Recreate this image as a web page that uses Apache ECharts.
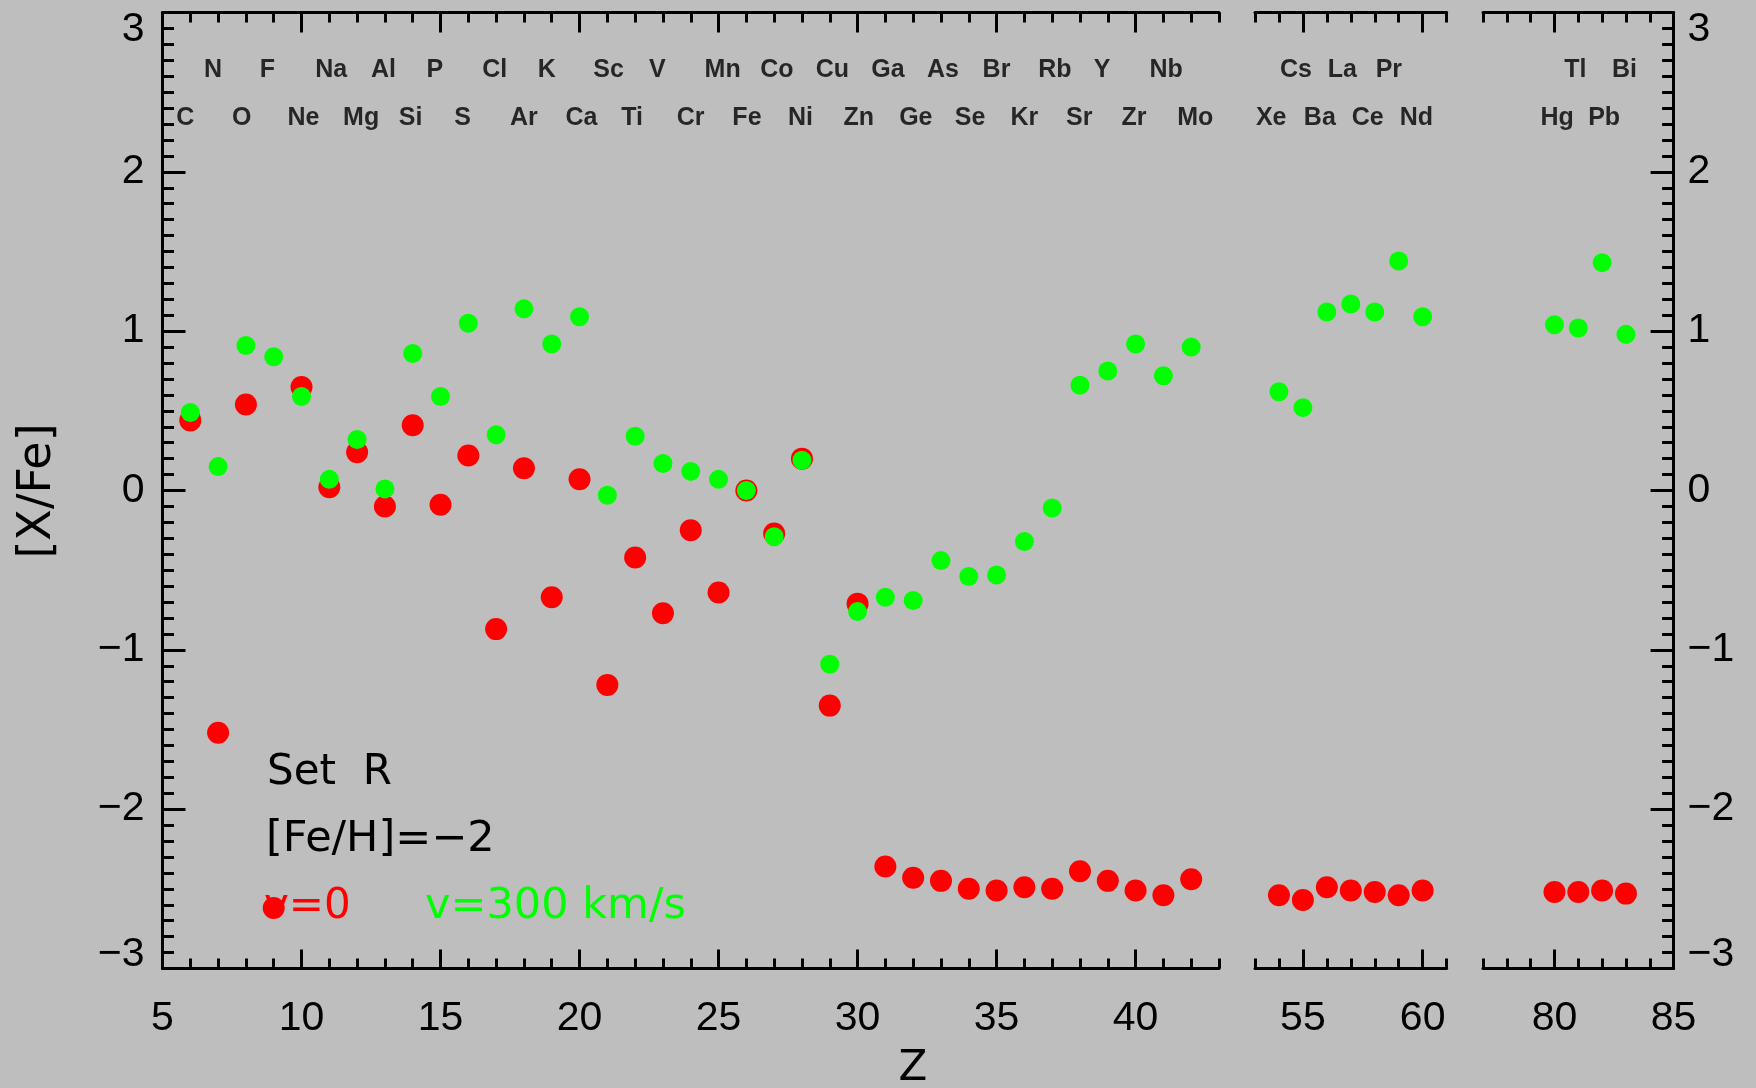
<!DOCTYPE html>
<html>
<head>
<meta charset="utf-8">
<script src="https://cdn.jsdelivr.net/npm/echarts@6/dist/echarts.min.js"></script>
<style>
  html, body { margin: 0; padding: 0; background: #bebebe; }
  #chart { width: 1756px; height: 1088px; }
</style>
</head>
<body>
<div id="chart"></div>
<script>
// Atomic number segments (light elements, Xe..Nd, Hg..Bi)
const zLight = [6, 7, 8, 9, 10, 11, 12, 13, 14, 15, 16, 17, 18, 19, 20, 21, 22, 23, 24, 25, 26, 27, 28, 29, 30, 31, 32, 33, 34, 35, 36, 37, 38, 39, 40, 41, 42];
const symLight = ['C', 'N', 'O', 'F', 'Ne', 'Na', 'Mg', 'Al', 'Si', 'P', 'S', 'Cl', 'Ar', 'K', 'Ca', 'Sc', 'Ti', 'V', 'Cr', 'Mn', 'Fe', 'Co', 'Ni', 'Cu', 'Zn', 'Ga', 'Ge', 'As', 'Se', 'Br', 'Kr', 'Rb', 'Sr', 'Y', 'Zr', 'Nb', 'Mo'];
// [X/Fe] for v = 0
const redLight = [0.44, -1.52, 0.54, -2.62, 0.65, 0.02, 0.24, -0.10, 0.41, -0.09, 0.22, -0.87, 0.14, -0.67, 0.07, -1.22, -0.42, -0.77, -0.25, -0.64, 0.00, -0.27, 0.20, -1.35, -0.71, -2.36, -2.43, -2.45, -2.50, -2.51, -2.49, -2.50, -2.39, -2.45, -2.51, -2.54, -2.44];
// [X/Fe] for v = 300 km/s
const greenLight = [0.49, 0.15, 0.91, 0.84, 0.59, 0.07, 0.32, 0.01, 0.86, 0.59, 1.05, 0.35, 1.14, 0.92, 1.09, -0.03, 0.34, 0.17, 0.12, 0.07, 0.00, -0.29, 0.19, -1.09, -0.76, -0.67, -0.69, -0.44, -0.54, -0.53, -0.32, -0.11, 0.66, 0.75, 0.92, 0.72, 0.90];

const zMid = [54, 55, 56, 57, 58, 59, 60];
const symMid = ['Xe', 'Cs', 'Ba', 'La', 'Ce', 'Pr', 'Nd'];
const redMid = [-2.54, -2.57, -2.49, -2.51, -2.52, -2.54, -2.51];
const greenMid = [0.62, 0.52, 1.12, 1.17, 1.12, 1.44, 1.09];

const zHeavy = [80, 81, 82, 83];
const symHeavy = ['Hg', 'Tl', 'Pb', 'Bi'];
const redHeavy = [-2.52, -2.52, -2.51, -2.53];
const greenHeavy = [1.04, 1.02, 1.43, 0.98];

// Tick labels
const xTicksLight = [5, 10, 15, 20, 25, 30, 35, 40];
const xTicksMid = [55, 60];
const xTicksHeavy = [80, 85];
const yMin = -3, yMax = 3;

const BLACK = '#000000';
const RED = '#ff0000';
const GREEN = '#00ff00';
const TICK_FONT = 'Liberation Sans, Arial, sans-serif';
const TEXT_FONT = 'DejaVu Sans, sans-serif';

const panels = [
  { left: 162.5, width: 1056.5, min: 5, max: 43, major: xTicksLight, z: zLight, red: redLight, green: greenLight, sym: symLight, labelDx: -14 },
  { left: 1255, width: 191.6, min: 53, max: 61, major: xTicksMid, z: zMid, red: redMid, green: greenMid, sym: symMid, labelDx: -23 },
  { left: 1483, width: 190.6, min: 77, max: 85, major: xTicksHeavy, z: zHeavy, red: redHeavy, green: greenHeavy, sym: symHeavy, labelDx: -14 }
];
const GRID_TOP = 12.5;
const GRID_HEIGHT = 956;
// rows of the element symbols near the top of the frame (odd Z upper, even Z lower)
const ROW_ODD = 2.636;
const ROW_EVEN = 2.335;

const lineStyle = { color: BLACK, width: 3 };

const grids = panels.map(p => ({
  left: p.left, width: p.width, top: GRID_TOP, height: GRID_HEIGHT,
  containLabel: false, outerBoundsMode: 'none'
}));

const xAxes = [];
panels.forEach((p, i) => {
  const base = { gridIndex: i, type: 'value', min: p.min, max: p.max, splitLine: { show: false } };
  // bottom: major ticks with labels
  xAxes.push(Object.assign({}, base, {
    position: 'bottom',
    axisLine: { show: true, onZero: false, lineStyle },
    axisTick: { show: true, inside: true, length: 19, customValues: p.major, lineStyle },
    axisLabel: { show: true, customValues: p.major, margin: 30, fontSize: 41, color: BLACK, fontFamily: TICK_FONT }
  }));
  // bottom: unit ticks
  xAxes.push(Object.assign({}, base, {
    position: 'bottom', interval: 1,
    axisLine: { show: false, onZero: false },
    axisTick: { show: true, inside: true, length: 10, lineStyle },
    axisLabel: { show: false }
  }));
  // top: major ticks
  xAxes.push(Object.assign({}, base, {
    position: 'top',
    axisLine: { show: true, onZero: false, lineStyle },
    axisTick: { show: true, inside: true, length: 20, customValues: p.major, lineStyle },
    axisLabel: { show: false }
  }));
  // top: unit ticks
  xAxes.push(Object.assign({}, base, {
    position: 'top', interval: 1,
    axisLine: { show: false, onZero: false },
    axisTick: { show: true, inside: true, length: 10, lineStyle },
    axisLabel: { show: false }
  }));
});

const yLabelFmt = v => (v < 0 ? '\u2212' + Math.abs(v) : String(v));
const yAxisFramed = (gridIndex, position, margin) => ({
  gridIndex, type: 'value', position, min: yMin, max: yMax, interval: 1,
  splitLine: { show: false },
  axisLine: { show: true, onZero: false, lineStyle },
  axisTick: { show: true, inside: true, length: 23, lineStyle },
  minorTick: { show: true, splitNumber: 10, length: 11.5, lineStyle },
  axisLabel: {
    show: true, margin, fontSize: 41, lineHeight: 27, padding: [4, 0, 0, 0],
    color: BLACK, fontFamily: TICK_FONT, formatter: yLabelFmt,
    verticalAlignMaxLabel: 'top', verticalAlignMinLabel: 'bottom'
  }
});
const yAxes = [
  yAxisFramed(0, 'left', 18),
  { gridIndex: 1, type: 'value', min: yMin, max: yMax, show: false },
  yAxisFramed(2, 'right', 14)
];

const series = [];
panels.forEach((p, i) => {
  series.push({
    type: 'scatter', name: 'v=0', xAxisIndex: i * 4, yAxisIndex: i,
    symbol: 'circle', symbolSize: 22, z: 3,
    itemStyle: { color: RED, opacity: 1 },
    data: p.z.map((z, k) => [z, p.red[k]])
  });
  series.push({
    type: 'scatter', name: 'v=300 km/s', xAxisIndex: i * 4, yAxisIndex: i,
    symbol: 'circle', symbolSize: 19, z: 4,
    itemStyle: { color: GREEN, opacity: 1 },
    data: p.z.map((z, k) => [z, p.green[k]])
  });
  // element symbols along the top of each panel
  series.push({
    type: 'scatter', name: 'elements', xAxisIndex: i * 4, yAxisIndex: i,
    symbolSize: 0, z: 5, silent: true,
    itemStyle: { color: 'rgba(0,0,0,0)' },
    label: {
      show: true, position: 'inside', align: 'left', verticalAlign: 'middle',
      offset: [p.labelDx, 0], formatter: d => d.name,
      fontSize: 25, fontWeight: 'bold', color: BLACK, fontFamily: TICK_FONT
    },
    data: p.z.map((z, k) => ({ name: p.sym[k], value: [z, z % 2 === 1 ? ROW_ODD : ROW_EVEN] }))
  });
});

const textStyle = (text, fill, size) => ({ text, fill, fontSize: size, fontFamily: TEXT_FONT, align: 'left', verticalAlign: 'middle' });

const option = {
  animation: false,
  backgroundColor: '#bebebe',
  grid: grids,
  xAxis: xAxes,
  yAxis: yAxes,
  series,
  graphic: [
    { type: 'text', z: 0, x: 267, y: 773, style: textStyle('Set  R', BLACK, 42) },
    { type: 'text', z: 0, x: 266, y: 840, style: textStyle('[Fe/H]=\u22122', BLACK, 43) },
    { type: 'text', z: 0, x: 264, y: 907, style: textStyle('v=0', RED, 42) },
    { type: 'text', z: 0, x: 425, y: 907, style: textStyle('v=300 km/s', GREEN, 43) },
    { type: 'text', z: 0, x: 913, y: 1069, style: Object.assign(textStyle('Z', BLACK, 42), { align: 'center' }) },
    { type: 'text', z: 0, x: 38, y: 491, rotation: Math.PI / 2, style: Object.assign(textStyle('[X/Fe]', BLACK, 46), { align: 'center' }) }
  ]
};

const chart = echarts.init(document.getElementById('chart'), null, { renderer: 'canvas' });
chart.setOption(option);
</script>
</body>
</html>
